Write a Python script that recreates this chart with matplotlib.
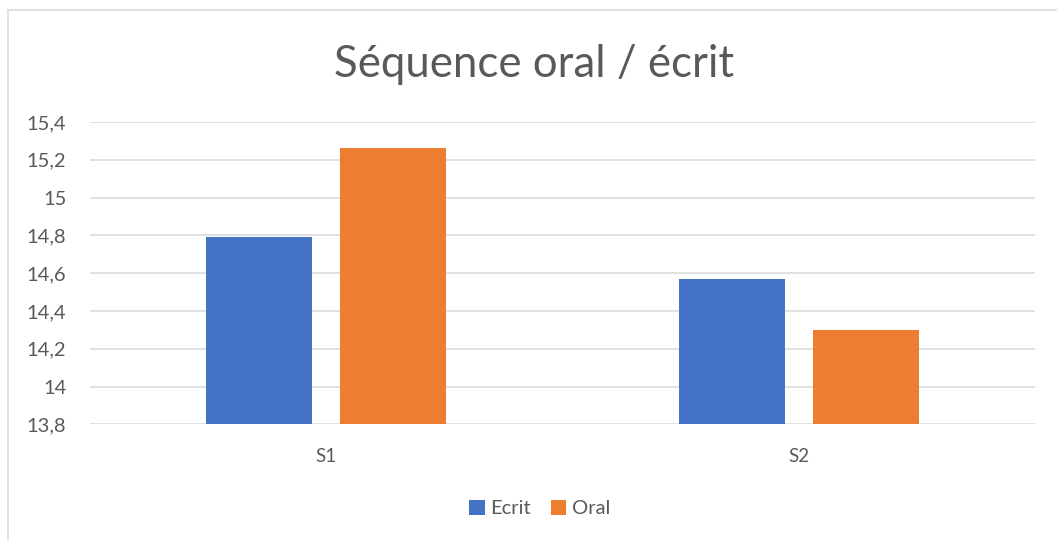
import numpy as np
import matplotlib.pyplot as plt
from matplotlib.lines import Line2D

# Données
categories = ["S1", "S2"]
ecrit = [14.79, 14.57]
oral = [15.26, 14.30]
series_names = ["Ecrit", "Oral"]
y_ticks = [13.8, 14.0, 14.2, 14.4, 14.6, 14.8, 15.0, 15.2, 15.4]
y_tick_labels = ["13,8", "14", "14,2", "14,4", "14,6", "14,8", "15", "15,2", "15,4"]

plt.rcParams['font.family'] = ['Lato', 'DejaVu Sans']
gray_text = "#595959"
grid_color = "#d9d9d9"

fig = plt.figure(figsize=(10.57, 5.41), dpi=100)
ax = fig.add_axes([0.0851, 0.2157, 0.8941, 0.5588])

x = np.arange(len(categories))
width = 0.224
offset = 0.142
ax.bar(x - offset, ecrit, width, color="#4472C4", label=series_names[0], zorder=3)
ax.bar(x + offset, oral, width, color="#ED7D31", label=series_names[1], zorder=3)

ax.set_xlim(-0.5, 1.5)
ax.set_ylim(13.8, 15.4)
ax.set_yticks(y_ticks)
ax.set_yticklabels(y_tick_labels)
ax.set_xticks(x)
ax.set_xticklabels(categories)
ax.tick_params(axis='y', length=0, pad=17, labelsize=14.5, labelcolor=gray_text)
ax.tick_params(axis='x', length=0, pad=17, labelsize=13.5, labelcolor=gray_text)
ax.yaxis.grid(True, color=grid_color, linewidth=1.1, zorder=0)
ax.set_axisbelow(True)
for s in ax.spines.values():
    s.set_visible(False)

fig.text(0.505, 0.88, "Séquence oral / écrit", ha='center', va='center',
         fontsize=31.5, color=gray_text)

fig.legend(loc='center', bbox_to_anchor=(0.511, 0.06), ncol=2, frameon=False,
           fontsize=14.5, labelcolor=gray_text, handlelength=0.75, handleheight=0.75,
           handletextpad=0.3, columnspacing=1.0)

# cadre du graphique (haut et gauche seulement visibles)
fig.add_artist(Line2D([0.0075, 1.0], [1 - 10 / 541, 1 - 10 / 541], color=grid_color,
                      linewidth=1.1, transform=fig.transFigure))
fig.add_artist(Line2D([0.0075, 0.0075], [0.0, 1 - 10 / 541], color=grid_color,
                      linewidth=1.1, transform=fig.transFigure))

fig.savefig("out.png", dpi=100, facecolor="white")
